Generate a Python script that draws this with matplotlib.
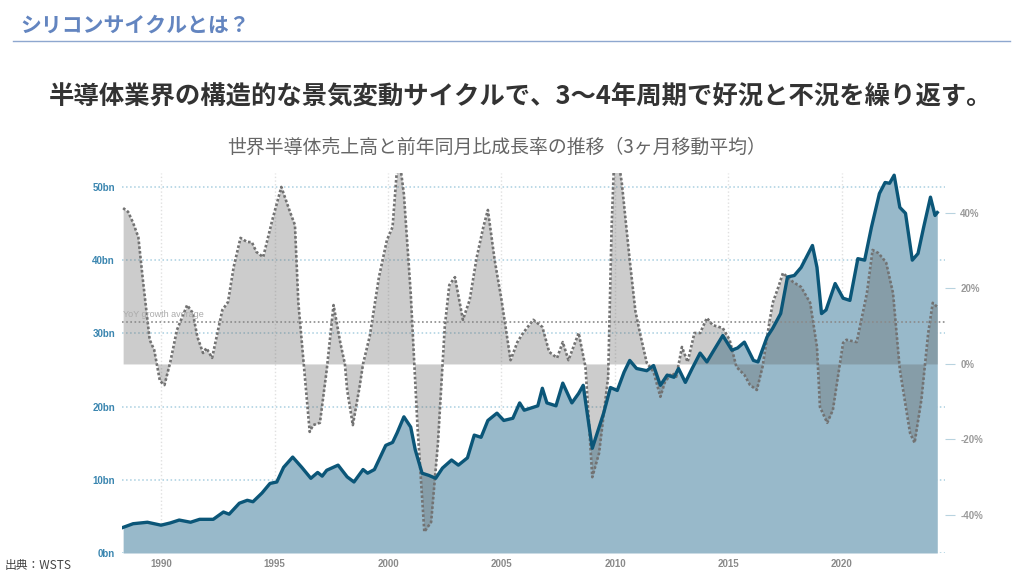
import matplotlib
matplotlib.use("Agg")
import matplotlib.pyplot as plt
from matplotlib.lines import Line2D

plt.rcParams['font.family'] = ['Noto Sans CJK JP', 'DejaVu Sans']

# world semiconductor sales, 3-month moving average (bn USD)
sales_year = [
    1988.33, 1988.77, 1989.4, 1989.7, 1990.0, 1990.4, 1990.8, 1991.3, 1991.7,
    1992.3, 1992.75, 1993.0, 1993.45, 1993.8, 1994.05, 1994.45, 1994.8, 1995.1,
    1995.4, 1995.8, 1996.2, 1996.6, 1996.9, 1997.1, 1997.3, 1997.8, 1998.2,
    1998.5, 1998.9, 1999.1, 1999.4, 1999.9, 2000.2, 2000.4, 2000.7, 2001.0,
    2001.2, 2001.5, 2001.8, 2002.1, 2002.4, 2002.8, 2003.1, 2003.5, 2003.8,
    2004.1, 2004.4, 2004.8, 2005.1, 2005.5, 2005.8, 2006.0, 2006.6, 2006.8,
    2007.0, 2007.4, 2007.7, 2008.1, 2008.4, 2008.6, 2009.0, 2009.5, 2009.8,
    2010.1, 2010.4, 2010.65, 2010.95, 2011.4, 2011.7, 2012.0, 2012.3, 2012.6,
    2012.8, 2013.1, 2013.4, 2013.75, 2014.05, 2014.3, 2014.75, 2015.15, 2015.4,
    2015.7, 2016.1, 2016.3, 2016.7, 2016.95, 2017.3, 2017.6, 2017.9, 2018.2,
    2018.7, 2018.9, 2019.1, 2019.3, 2019.7, 2020.05, 2020.35, 2020.7, 2021.0,
    2021.3, 2021.65, 2021.9, 2022.1, 2022.3, 2022.55, 2022.8, 2023.1, 2023.35,
    2023.6, 2023.9, 2024.1, 2024.2,
]
sales_bn = [
    3.5, 4.0, 4.2, 4.0, 3.8, 4.1, 4.5, 4.2, 4.6,
    4.6, 5.6, 5.3, 6.8, 7.2, 7.0, 8.2, 9.5, 9.7,
    11.7, 13.1, 11.7, 10.2, 11.0, 10.5, 11.3, 12.0, 10.4,
    9.7, 11.4, 10.9, 11.4, 14.7, 15.1, 16.4, 18.6, 17.2,
    14.1, 10.9, 10.6, 10.2, 11.6, 12.7, 12.0, 13.0, 16.1,
    15.8, 18.1, 19.1, 18.1, 18.4, 20.5, 19.5, 20.1, 22.5,
    20.5, 20.1, 23.2, 20.5, 21.8, 22.9, 14.3, 19.1, 22.6,
    22.2, 24.7, 26.3, 25.2, 24.9, 25.6, 22.9, 24.3, 24.0,
    25.2, 23.3, 25.2, 27.3, 26.1, 27.4, 29.7, 27.7, 28.0,
    28.8, 26.3, 26.1, 29.5, 30.7, 32.7, 37.7, 37.9, 39.0,
    42.0, 39.0, 32.7, 33.2, 36.8, 34.8, 34.5, 40.2, 40.0,
    44.5, 49.1, 50.6, 50.5, 51.6, 47.2, 46.4, 40.0, 40.9,
    44.5, 48.6, 46.1, 46.5,
]

# year-on-year growth (%)
growth_year = [
    1988.33, 1988.55, 1988.77, 1989.0, 1989.2, 1989.5, 1989.7, 1989.95, 1990.15,
    1990.4, 1990.7, 1991.15, 1991.4, 1991.6, 1991.85, 1992.0, 1992.25, 1992.7,
    1992.95, 1993.2, 1993.5, 1993.8, 1994.0, 1994.2, 1994.5, 1994.9, 1995.3,
    1995.7, 1995.9, 1996.05, 1996.55, 1996.7, 1997.0, 1997.3, 1997.6, 1997.9,
    1998.1, 1998.2, 1998.45, 1998.75, 1998.9, 1999.2, 1999.6, 1999.95, 2000.2,
    2000.4, 2000.55, 2000.7, 2001.0, 2001.3, 2001.6, 2001.9, 2002.2, 2002.5,
    2002.7, 2002.95, 2003.3, 2003.6, 2003.9, 2004.2, 2004.4, 2004.7, 2005.0,
    2005.4, 2005.7, 2005.95, 2006.4, 2006.8, 2007.1, 2007.45, 2007.7, 2007.95,
    2008.4, 2008.7, 2009.0, 2009.3, 2009.7, 2009.85, 2009.95, 2010.2, 2010.3,
    2010.65, 2010.9, 2011.1, 2011.4, 2011.7, 2012.0, 2012.2, 2012.5, 2012.7,
    2012.95, 2013.2, 2013.5, 2013.75, 2014.05, 2014.3, 2014.75, 2015.05, 2015.35,
    2015.7, 2015.95, 2016.25, 2016.5, 2016.8, 2016.95, 2017.2, 2017.4, 2017.6,
    2017.85, 2018.2, 2018.6, 2018.9, 2019.03, 2019.35, 2019.6, 2020.05, 2020.2,
    2020.65, 2021.1, 2021.35, 2021.6, 2021.8, 2021.95, 2022.25, 2022.55, 2023.0,
    2023.2, 2023.5, 2023.8, 2024.0, 2024.2,
]
growth_pct = [
    41.3, 40.3, 37.4, 33.6, 22.3, 6.4, 3.7, -4.5, -5.6,
    0.3, 9.0, 15.6, 13.5, 7.2, 2.9, 4.2, 1.6, 14.3,
    16.4, 25.7, 33.4, 32.3, 32.3, 29.7, 28.3, 38.1, 46.9,
    40.0, 36.8, 16.2, -18.0, -16.2, -15.6, -1.6, 15.6, 5.6,
    0.0, -6.9, -16.2, -6.0, 0.0, 7.5, 23.0, 32.8, 36.3,
    52.0, 52.0, 45.0, 18.8, -16.7, -44.5, -41.9, -21.0, 9.8,
    20.9, 23.0, 11.7, 17.0, 28.0, 36.3, 40.8, 27.5, 17.0,
    1.0, 5.8, 8.2, 11.7, 9.8, 3.2, 1.6, 5.8, 1.0,
    8.2, -0.8, -30.0, -23.6, -3.4, 36.0, 52.0, 52.0, 48.0,
    27.5, 14.0, 8.2, 0.3, -2.1, -8.7, -4.8, -2.4, -3.4,
    4.5, 0.5, 8.2, 8.2, 12.2, 10.3, 9.5, 6.4, -0.8,
    -2.9, -5.6, -6.9, -0.8, 10.9, 16.2, 20.4, 24.1, 23.0,
    21.7, 20.4, 16.2, 4.5, -11.4, -15.6, -12.2, 5.6, 6.4,
    5.8, 18.8, 30.2, 29.4, 28.0, 26.8, 18.8, -1.5, -18.3,
    -20.9, -9.5, 8.2, 16.2, 15.1,
]
growth_avg = 11.0

year_ticks = [1990, 1995, 2000, 2005, 2010, 2015, 2020]
sales_ticks = [0, 10, 20, 30, 40, 50]
growth_ticks = [-40, -20, 0, 20, 40]

W, H = 1024, 576
fig = plt.figure(figsize=(W / 100, H / 100), dpi=100)
rect = [122 / W, 1 - 553 / H, (945 - 122) / W, (553 - 173) / H]

ax = fig.add_axes(rect)
ax2 = ax.twinx()
ax3 = fig.add_axes(rect, sharex=ax, sharey=ax)
ax3.set_facecolor('none')
ax3.axis('off')

# sales area (bottom layer)
ax.fill_between(sales_year, sales_bn, 0, color='#98b9ca', lw=0, zorder=2)
ax.set_xlim(1988.28, 2024.54)
ax.set_ylim(0, 51.9)
ax.set_yticks(sales_ticks)
ax.set_yticklabels(['{}bn'.format(v) for v in sales_ticks])
ax.set_xticks(year_ticks)
ax.set_xticklabels([str(y) for y in year_ticks])
ax.grid(axis='y', color='#a9cfe0', ls=':', lw=1.1, zorder=1)
ax.grid(axis='x', color='#e0e0e0', ls=':', lw=1, zorder=1)
ax.tick_params(axis='both', length=0)
ax.tick_params(axis='y', pad=5)
ax.tick_params(axis='x', pad=4)
for lab in ax.get_yticklabels():
    lab.set_fontfamily('Liberation Sans')
    lab.set_fontweight('bold')
    lab.set_fontsize(7)
    lab.set_color('#3b86b0')
for lab in ax.get_xticklabels():
    lab.set_fontfamily('Liberation Sans')
    lab.set_fontweight('bold')
    lab.set_fontsize(7)
    lab.set_color('#8a8a8a')

# growth area, dotted outline, average line
ax2.fill_between(growth_year, growth_pct, 0, color='#646464', alpha=0.33,
                 lw=0, interpolate=True)
ax2.plot(growth_year, growth_pct, color='#727272', lw=1.9, ls=(0, (1, 0.8)))
ax2.axhline(growth_avg, color='#8a8a8a', lw=1.2, ls=(0, (1, 1.5)))
ax2.set_ylim(-50.1, 50.6)
ax2.set_yticks(growth_ticks)
ax2.set_yticklabels(['{}%'.format(v) for v in growth_ticks])
ax2.tick_params(axis='y', length=7, width=0.8, color='#b8d3df', pad=4)
for lab in ax2.get_yticklabels():
    lab.set_fontfamily('Liberation Sans')
    lab.set_fontweight('bold')
    lab.set_fontsize(7)
    lab.set_color('#9a9a9a')
ax2.text(1988.33, growth_avg + 0.8, 'YoY growth average', fontsize=6.5,
         color='#aaaaaa', family='Liberation Sans', va='bottom')

# sales line on top
ax3.plot(sales_year, sales_bn, color='#0b5678', lw=2.4, solid_joinstyle='round')

for a in (ax, ax2, ax3):
    for s in a.spines.values():
        s.set_visible(False)

fig.text(20 / W, 1 - 25 / H, 'シリコンサイクルとは？', fontsize=15,
         fontweight='bold', color='#6385c0', va='center')
fig.add_artist(Line2D([13 / W, 1010 / W], [1 - 41 / H, 1 - 41 / H],
                      color='#8ea7cf', lw=1))
fig.text(521 / W, 1 - 97 / H,
         '半導体業界の構造的な景気変動サイクルで、3〜4年周期で好況と不況を繰り返す。',
         fontsize=18.3, fontweight='bold', color='#333333', ha='center',
         va='center')
fig.text(497 / W, 1 - 147 / H,
         '世界半導体売上高と前年同月比成長率の推移（3ヶ月移動平均）',
         fontsize=13.6, color='#666666', ha='center', va='center')
fig.text(5 / W, 1 - 566 / H, '出典：WSTS', fontsize=8.5, color='#444444',
         va='center')

fig.savefig('out.png', dpi=100)
